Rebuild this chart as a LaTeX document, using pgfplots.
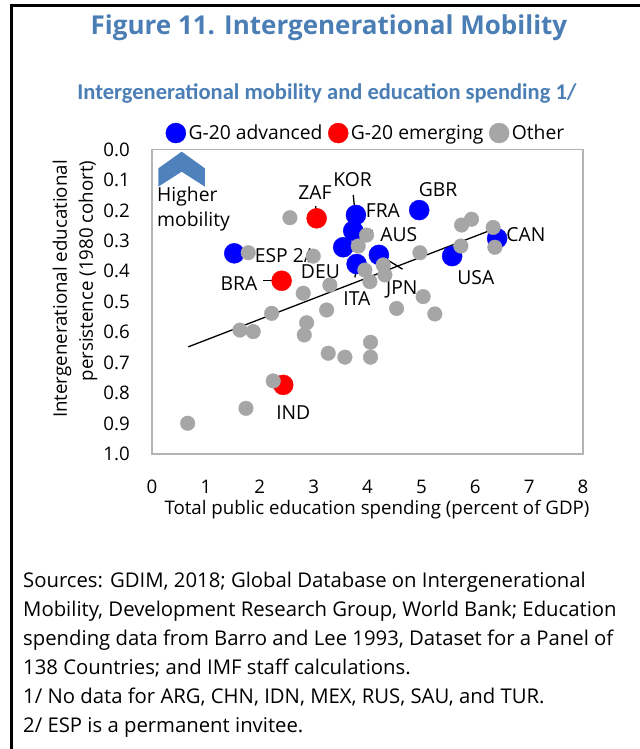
\documentclass[border=0pt]{standalone}
\usepackage{pgfplots}
\pgfplotsset{compat=1.18}
\usepackage{fontspec}
\setmainfont{Open Sans}
\newfontfamily\subfont{Carlito}
\definecolor{ttl}{RGB}{74,126,180}
\definecolor{chev}{RGB}{79,129,189}
\definecolor{gpt}{RGB}{166,166,166}
\definecolor{boxc}{RGB}{180,180,180}
\newcommand\fs{\fontsize{18.7bp}{22bp}\selectfont}
\newcommand\fl{\fontsize{19.3bp}{23bp}\selectfont}
\newcommand\fn{\fontsize{20.3bp}{24bp}\selectfont}

\pgfplotstableread{
x y
1.527 0.341
3.785 0.215
3.735 0.267
3.549 0.321
3.798 0.376
4.212 0.346
4.960 0.199
5.571 0.350
6.406 0.292
}\advanced

\pgfplotstableread{
x y
3.056 0.226
2.406 0.431
2.436 0.773
}\emerging

\pgfplotstableread{
x y
1.786 0.339
2.560 0.224
3.983 0.281
3.828 0.317
2.993 0.350
2.807 0.472
3.302 0.445
3.952 0.396
4.292 0.379
4.323 0.412
4.045 0.434
4.540 0.522
2.221 0.538
2.870 0.569
3.241 0.527
4.972 0.339
5.733 0.317
5.746 0.248
5.931 0.229
6.332 0.256
6.364 0.321
5.033 0.483
5.250 0.540
1.633 0.593
1.879 0.598
2.826 0.609
3.271 0.669
3.581 0.682
4.056 0.633
4.056 0.682
2.250 0.760
1.744 0.850
0.662 0.899
}\other

\begin{document}
\begin{tikzpicture}
\path[use as bounding box] (0,0) rectangle (640bp,-749bp);
\begin{axis}[
  at={(152bp,-454bp)}, anchor=south west,
  scale only axis, width=431bp, height=304.5bp,
  xmin=0, xmax=8, ymin=0, ymax=1, y dir=reverse,
  clip=false,
  axis line style={draw=boxc, line width=1.5bp},
  xtick={0,1,2,3,4,5,6,7,8},
  ytick={0,0.1,0.2,0.3,0.4,0.5,0.6,0.7,0.8,0.9,1},
  major tick length=0pt,
  tick label style={font=\fs},
  xticklabel style={/pgf/number format/assume math mode=true, anchor=center, yshift=-33bp},
  yticklabel style={/pgf/number format/.cd, fixed, fixed zerofill, precision=1, assume math mode=true, /tikz/.cd, anchor=east, inner sep=0pt, xshift=-22bp},
  legend columns=3,
  legend style={draw=none, fill=none, font=\fl, at={(0.497,1.054)}, anchor=center,
    inner sep=0pt, nodes={inner sep=2.5bp},
    /tikz/every even column/.append style={column sep=3bp}},
  legend cell align=left,
]
% chevron
\addplot[fill=chev, draw=none, forget plot] coordinates {
  (0.117,0.122) (0.117,0.062) (0.551,0.007) (0.983,0.062) (0.983,0.122) (0.551,0.073)} -- cycle;

\addplot[only marks, mark=*, mark size=10bp, mark options={draw=blue, fill=blue},
  legend image code/.code={\fill[blue] (0bp,0bp) circle (10bp);}] table {\advanced};
\addlegendentry{G-20 advanced}
\addplot[only marks, mark=*, mark size=10bp, mark options={draw=red, fill=red},
  legend image code/.code={\fill[red] (0bp,0bp) circle (10bp);}] table {\emerging};
\addlegendentry{G-20 emerging}
\addplot[only marks, mark=*, mark size=7.3bp, mark options={draw=gpt, fill=gpt},
  legend image code/.code={\fill[gpt] (0bp,0bp) circle (10bp);}] table {\other};
\addlegendentry{Other}

% trend line
\addplot[black, line width=1.3bp, forget plot] coordinates {(0.674,0.648) (6.420,0.256)};

% leader lines
\draw[black, line width=1.3bp] (axis cs:3.037,0.186) -- (axis cs:3.056,0.223);
\draw[black, line width=1.3bp] (axis cs:3.735,0.149) -- (axis cs:3.772,0.212);
\draw[black, line width=1.3bp] (axis cs:3.859,0.267) -- (axis cs:4.095,0.267);
\draw[black, line width=1.3bp] (axis cs:2.900,0.370) -- (axis cs:2.993,0.330);
\draw[black, line width=1.3bp] (axis cs:3.766,0.420) -- (axis cs:3.809,0.379);
\draw[black, line width=1.3bp] (axis cs:4.217,0.346) -- (axis cs:4.651,0.393);
\draw[black, line width=1.3bp] (axis cs:2.065,0.431) -- (axis cs:2.406,0.431);

% country labels
\begin{scope}[every node/.style={font=\fl, inner sep=0pt}]
\node at (axis cs:3.024,0.140) {ZAF};
\node at (axis cs:3.724,0.100) {KOR};
\node at (axis cs:4.286,0.199) {FRA};
\node at (axis cs:5.312,0.133) {GBR};
\node at (axis cs:4.583,0.281) {AUS};
\node at (axis cs:6.939,0.278) {CAN};
\node at (axis cs:6.011,0.420) {USA};
\node at (axis cs:4.638,0.461) {JPN};
\node at (axis cs:3.803,0.489) {ITA};
\node at (axis cs:3.126,0.401) {DEU};
\node at (axis cs:2.430,0.350) {ESP 2/};
\node at (axis cs:1.614,0.439) {BRA};
\node at (axis cs:2.622,0.863) {IND};
\node[anchor=west] at (axis cs:0.093,0.155) {Higher};
\node[anchor=west] at (axis cs:0.093,0.237) {mobility};
\end{scope}
\end{axis}

\begin{scope}[x=1bp, y=-1bp]
\draw[black, line width=2.5bp] (11.5,760) -- (11.5,5.5) -- (650,5.5);
\node[font=\fontsize{26bp}{30bp}\selectfont\bfseries, text=ttl, inner sep=0pt] at (329,28) {Figure 11. Intergenerational Mobility};
\node[font=\subfont\fontsize{22.5bp}{26bp}\selectfont\bfseries, text=ttl, inner sep=0pt] at (327,93) {Intergenerational mobility and education spending 1/};
\node[font=\fs, inner sep=0pt] at (377,510) {Total public education spending (percent of GDP)};
\node[font=\fs, inner sep=0pt, rotate=90] at (62,289) {Intergenerational educational};
\node[font=\fs, inner sep=0pt, rotate=90] at (88,271) {persistence (1980 cohort)};
\begin{scope}[every node/.style={font=\fn, inner sep=0pt, anchor=base west}]
\node at (23,587) {Sources: GDIM, 2018; Global Database on Intergenerational};
\node at (23,616) {Mobility, Development Research Group, World Bank; Education};
\node at (23,645) {spending data from Barro and Lee 1993, Dataset for a Panel of};
\node at (23,674) {138 Countries; and IMF staff calculations.};
\node at (23,703) {1/ No data for ARG, CHN, IDN, MEX, RUS, SAU, and TUR.};
\node at (23,732) {2/ ESP is a permanent invitee.};
\end{scope}
\end{scope}
\end{tikzpicture}
\end{document}
